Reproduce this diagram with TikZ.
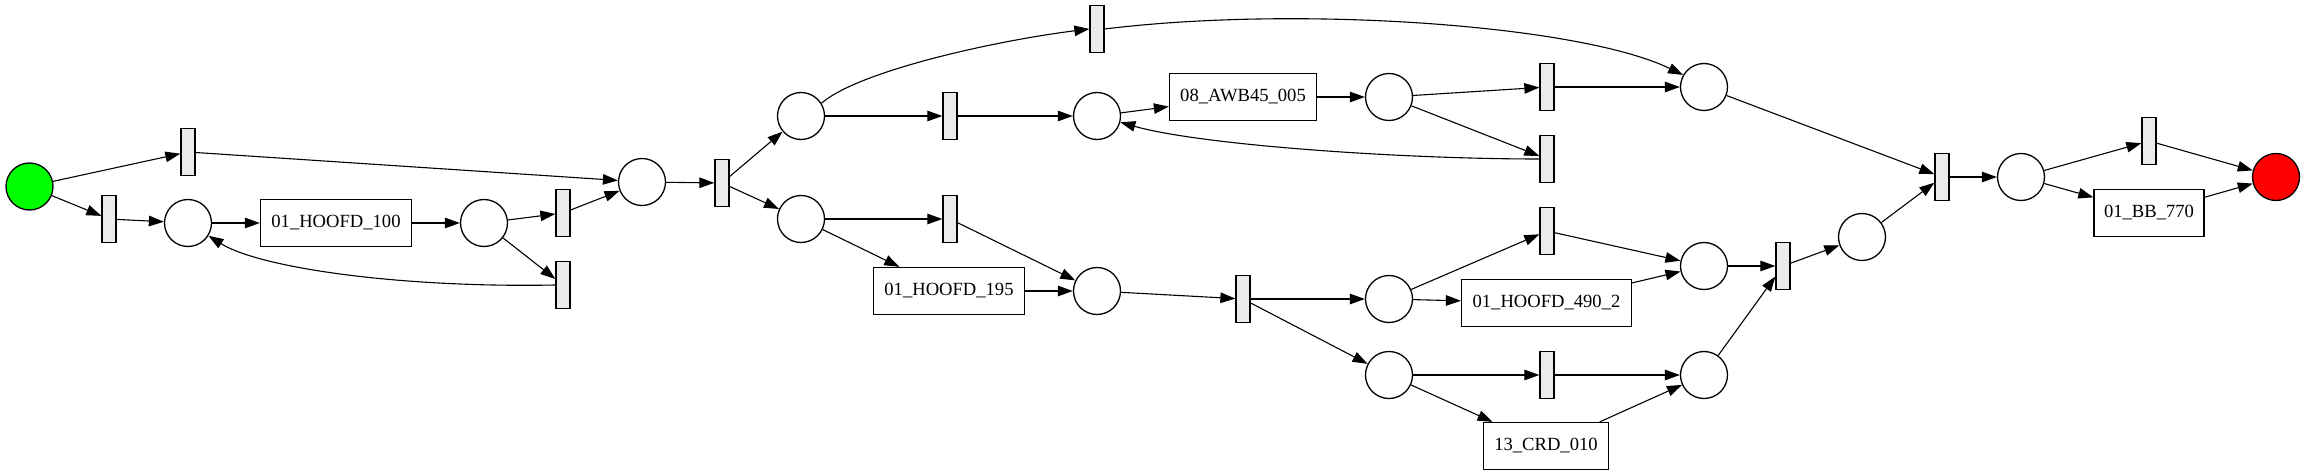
\documentclass[tikz,border=0pt]{standalone}
\usepackage{fontspec}
\setmainfont{Liberation Serif}
\usetikzlibrary{arrows.meta}
\definecolor{tfill}{RGB}{235,235,235}
\begin{document}
\begin{tikzpicture}[x=1pt,y=-1pt,
  every node/.style={line width=1.3pt},
  place/.style={draw, circle, inner sep=0pt, minimum size=47pt},
  trans/.style={draw, rectangle, fill=tfill, inner sep=0pt, minimum width=14pt, minimum height=47pt},
  task/.style={draw, rectangle, fill=white, inner sep=0pt, minimum height=47pt, font=\fontsize{18.6}{22}\selectfont},
  arc/.style={draw, line width=1.1pt, -{Triangle[length=15pt,width=10.5pt]}}]
\useasboundingbox (0,0) rectangle (2305,476);
% nodes
\node[place, fill=green] (g) at (29.5,186.5) {};
\node[trans] (t1) at (188,152) {};
\node[trans] (t2) at (109,219) {};
\node[place] (p1) at (188,223) {};
\node[task, minimum width=151pt] (b100) at (336,223) {01\_HOOFD\_100};
\node[place] (p2) at (484,223) {};
\node[trans] (t3) at (563,213) {};
\node[trans] (t4) at (563,285) {};
\node[place] (p3) at (642,182) {};
\node[trans] (t5) at (722,183) {};
\node[place] (p4) at (801,116) {};
\node[place] (p5) at (801,219) {};
\node[trans] (t6) at (1097,29) {};
\node[trans] (t7) at (950,116) {};
\node[place] (p6) at (1097,116) {};
\node[task, minimum width=147pt] (bawb) at (1243,97) {08\_AWB45\_005};
\node[place] (p7) at (1389,97) {};
\node[trans] (t8) at (1547,87) {};
\node[trans] (t11) at (1547,159) {};
\node[place] (p11) at (1704,87) {};
\node[trans] (t9) at (950,219) {};
\node[task, minimum width=151pt] (b195) at (949,291) {01\_HOOFD\_195};
\node[place] (p8) at (1097,291) {};
\node[trans] (t10) at (1243,299) {};
\node[place] (p9) at (1389,299) {};
\node[place] (p10) at (1389,375) {};
\node[task, minimum width=170pt] (b490) at (1546.5,303) {01\_HOOFD\_490\_2};
\node[trans] (t12) at (1547,231) {};
\node[place] (p12) at (1704,266) {};
\node[trans] (t16) at (1547,375) {};
\node[task, minimum width=125pt] (b13) at (1546,446) {13\_CRD\_010};
\node[place] (p15) at (1704,375) {};
\node[trans] (t13) at (1783,266) {};
\node[place] (p13) at (1862,237) {};
\node[trans] (t14) at (1942,177) {};
\node[place] (p14) at (2021,177) {};
\node[trans] (t15) at (2149,141) {};
\node[task, minimum width=110pt] (bbb) at (2149,213) {01\_BB\_770};
\node[place, fill=red] (r) at (2276,177) {};
% arcs
\draw[arc] (g) -- (t1);
\draw[arc] (g) -- (t2);
\draw[arc] (t1) -- (p3);
\draw[arc] (t2) -- (p1);
\draw[arc] (p1) -- (b100);
\draw[arc] (b100) -- (p2);
\draw[arc] (p2) -- (t3);
\draw[arc] (p2) -- (t4);
\draw[arc] (t3) -- (p3);
\draw[arc] (t4.west) .. controls (400,288) and (260,268) .. (p1.-32);
\draw[arc] (p3) -- (t5);
\draw[arc] (t5) -- (p4);
\draw[arc] (t5) -- (p5);
\draw[arc] (p4.32) .. controls (860,70) and (1000,40) .. (t6.west);
\draw[arc] (t6.east) .. controls (1300,5) and (1580,25) .. (p11.150);
\draw[arc] (p4) -- (t7);
\draw[arc] (t7) -- (p6);
\draw[arc] (p6) -- (bawb);
\draw[arc] (bawb) -- (p7);
\draw[arc] (p7) -- (t8);
\draw[arc] (p7) -- (t11);
\draw[arc] (t8) -- (p11);
\draw[arc] (t11.west) .. controls (1400,159) and (1200,145) .. (p6.-15);
\draw[arc] (p5) -- (t9);
\draw[arc] (p5) -- (b195);
\draw[arc] (t9) -- (p8);
\draw[arc] (b195) -- (p8);
\draw[arc] (p8) -- (t10);
\draw[arc] (t10) -- (p9);
\draw[arc] (t10) -- (p10);
\draw[arc] (p9) -- (t12);
\draw[arc] (p9) -- (b490);
\draw[arc] (t12) -- (p12);
\draw[arc] (b490) -- (p12);
\draw[arc] (p10) -- (t16);
\draw[arc] (p10) -- (b13);
\draw[arc] (t16) -- (p15);
\draw[arc] (b13) -- (p15);
\draw[arc] (p12) -- (t13);
\draw[arc] (p15) -- (t13);
\draw[arc] (t13) -- (p13);
\draw[arc] (p13) -- (t14);
\draw[arc] (p11) -- (t14);
\draw[arc] (t14) -- (p14);
\draw[arc] (p14) -- (t15);
\draw[arc] (p14) -- (bbb);
\draw[arc] (t15) -- (r);
\draw[arc] (bbb) -- (r);
\end{tikzpicture}
\end{document}
